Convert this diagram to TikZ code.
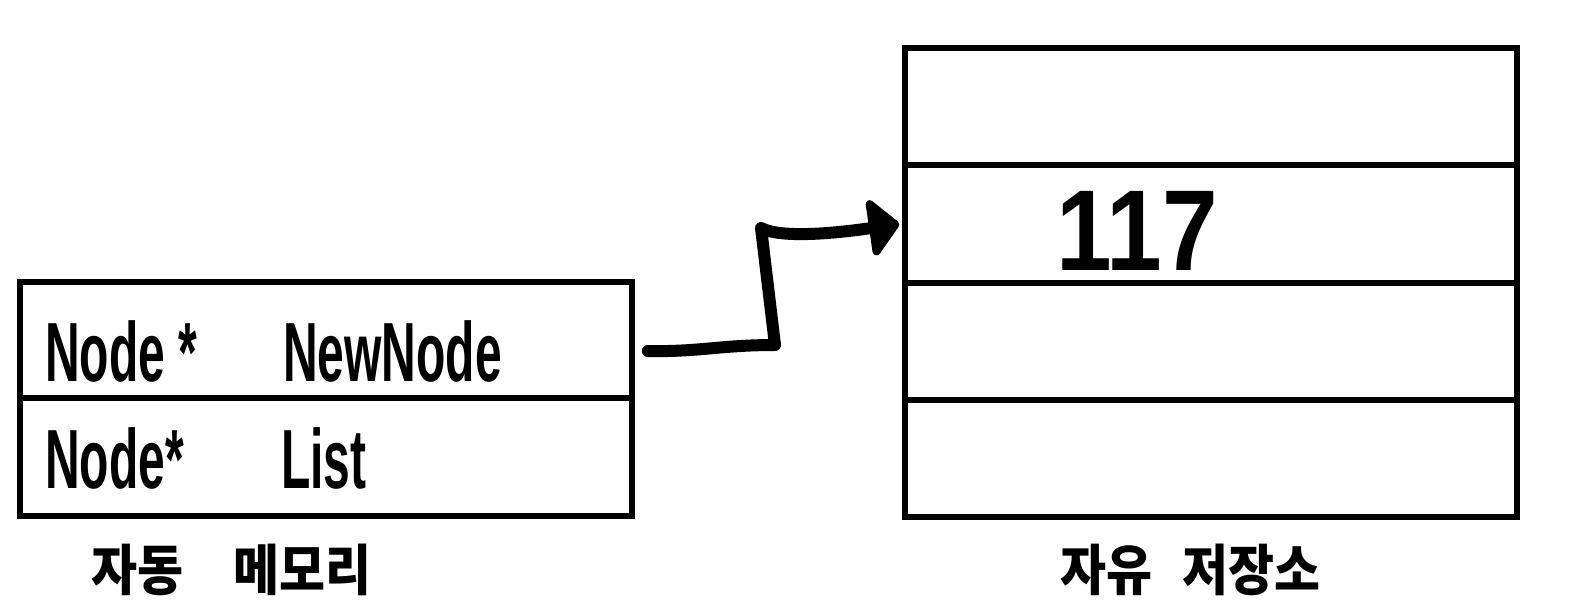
\documentclass[tikz,border=0pt]{standalone}
\usepackage{fontspec}
\setmainfont{Liberation Sans}
\newfontfamily\krfont{Noto Sans CJK KR}
\usetikzlibrary{arrows.meta}

\tikzset{
  cell/.style={draw, line width=5.5pt, minimum width=612pt, inner sep=0pt},
  vartext/.style={anchor=base west, inner sep=0pt, transform shape, yscale=1.75,
                  font=\fontsize{48}{48}\selectfont\bfseries},
  caption/.style={inner sep=0pt, transform shape, yscale=1.1,
                  font=\krfont\fontsize{50}{50}\selectfont\bfseries},
  valtext/.style={anchor=base, inner sep=0pt, transform shape, yscale=1.15,
                  font=\fontsize{100}{100}\selectfont\bfseries},
  pointer/.style={line width=12pt, line cap=round, line join=round,
                  -{Triangle[round, fill=black, length=32pt 0 0, width=66pt 0 0]}}
}

\begin{document}
\begin{tikzpicture}[x=1pt, y=-1pt]
  \useasboundingbox (0,0) rectangle (1576,614);

  % automatic storage: two pointer variables
  \node[cell, minimum height=116pt] (na) at (326,340) {};
  \node[cell, minimum height=118pt] (nb) at (326,457) {};
  \node[vartext] (ta1) at (45,381) {Node *};
  \node[vartext] (ta2) at (283,381) {NewNode};
  \node[vartext] (tb1) at (45,488) {Node*};
  \node[vartext] (tb2) at (281,488) {List};
  \node[caption] (capl) at (231,570) {자동\hspace{50pt}메모리};

  % free store: four cells
  \node[cell, minimum height=117pt] (r1) at (1211,106.5) {};
  \node[cell, minimum height=118pt] (r2) at (1211,224) {};
  \node[cell, minimum height=117pt] (r3) at (1211,341.5) {};
  \node[cell, minimum height=117pt] (r4) at (1211,458.5) {};
  \node[valtext] (val) at (1137,270) {117};
  \node[caption] (capr) at (1190,570) {자유\hspace{30pt}저장소};

  % pointer from NewNode to the allocated cell
  \coordinate (ps) at ([xshift=13pt]na.east |- 0,351);
  \coordinate (pk1) at (775,345);
  \coordinate (pk2) at (761,228);
  \draw[pointer] (ps) .. controls (700,352) and (720,345) .. (pk1)
                 -- (pk2) .. controls (780,238) and (830,234) .. ([xshift=-3pt]r2.west);
\end{tikzpicture}
\end{document}
